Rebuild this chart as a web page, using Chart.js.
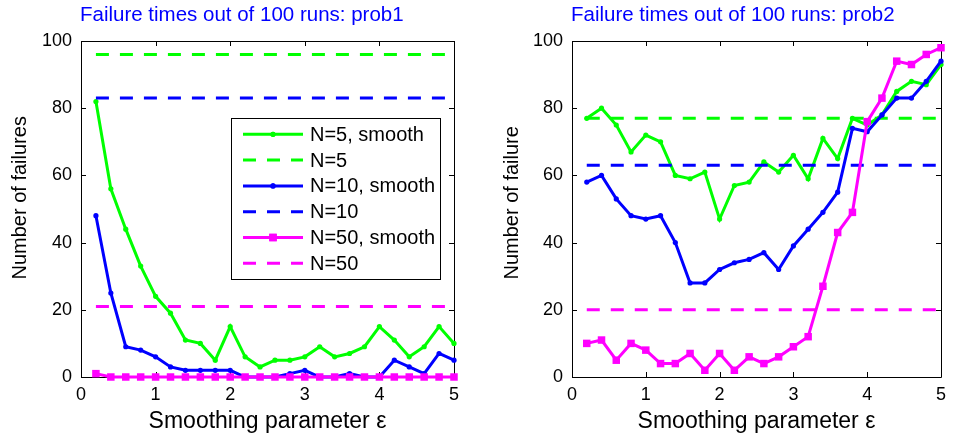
<!DOCTYPE html>
<html>
<head>
<meta charset="utf-8">
<script src="https://cdn.jsdelivr.net/npm/chart.js@4.4.1/dist/chart.umd.min.js"></script>
<style>
  html, body { margin: 0; padding: 0; background: #fff; }
  #wrap { position: relative; width: 953px; height: 437px; }
  canvas { position: absolute; top: 0; }
</style>
</head>
<body>
<div id="wrap">
  <canvas id="c1" width="476" height="437" style="left:0px"></canvas>
  <canvas id="c2" width="477" height="437" style="left:476px"></canvas>
</div>
<script>
// ---------------- data ----------------
const epsValues = [0.2, 0.4, 0.6, 0.8, 1.0, 1.2, 1.4, 1.6, 1.8, 2.0, 2.2, 2.4, 2.6,
                   2.8, 3.0, 3.2, 3.4, 3.6, 3.8, 4.0, 4.2, 4.4, 4.6, 4.8, 5.0];
const seriesLabels = ['N=5, smooth', 'N=5', 'N=10, smooth', 'N=10', 'N=50, smooth', 'N=50'];

// prob1
const prob1N5Smooth  = [82, 56, 44, 33, 24, 19, 11, 10, 5, 15, 6, 3, 5, 5, 6, 9, 6, 7, 9, 15, 11, 6, 9, 15, 10];
const prob1N10Smooth = [48, 25, 9, 8, 6, 3, 2, 2, 2, 2, 0, 0, 0, 1, 2, 0, 0, 1, 0, 0, 5, 3, 1, 7, 5];
const prob1N50Smooth = [1, 0, 0, 0, 0, 0, 0, 0, 0, 0, 0, 0, 0, 0, 0, 0, 0, 0, 0, 0, 0, 0, 0, 0, 0];
const prob1Plain     = [96, 83, 21];   // N=5, N=10, N=50 without smoothing

// prob2
const prob2N5Smooth  = [77, 80, 75, 67, 72, 70, 60, 59, 61, 47, 57, 58, 64, 61, 66, 59, 71, 65, 77, 75, 78, 85, 88, 87, 93];
const prob2N10Smooth = [58, 60, 53, 48, 47, 48, 40, 28, 28, 32, 34, 35, 37, 32, 39, 44, 49, 55, 74, 73, 78, 83, 83, 88, 94];
const prob2N50Smooth = [10, 11, 5, 10, 8, 4, 4, 7, 2, 7, 2, 6, 4, 6, 9, 12, 27, 43, 49, 76, 83, 94, 93, 96, 98];
const prob2Plain     = [77, 63, 20];

const xTicks = [0, 1, 2, 3, 4, 5];
const yTicks = [0, 20, 40, 60, 80, 100];
const titles = ['Failure times out of 100 runs: prob1', 'Failure times out of 100 runs: prob2'];
const yTitles = ['Number of failures', 'Number of failure'];
const xTitle = 'Smoothing parameter \u03b5';

// ---------------- styling ----------------
const GREEN = '#00ff00', BLUE = '#0000ff', MAGENTA = '#ff00ff';
const FONT = '"Liberation Sans", Arial, Helvetica, sans-serif';
const DASH = [13, 11];

function pts(vals) { return epsValues.map((x, i) => ({ x: x, y: vals[i] })); }
function flat(v) { return [{ x: epsValues[0], y: v }, { x: epsValues[epsValues.length - 1], y: v }]; }

function buildDatasets(s5, s10, s50, plain) {
  const colors = [GREEN, GREEN, BLUE, BLUE, MAGENTA, MAGENTA];
  const data = [pts(s5), flat(plain[0]), pts(s10), flat(plain[1]), pts(s50), flat(plain[2])];
  return data.map((d, i) => {
    const smooth = i % 2 === 0;
    const isSquare = i === 4;
    return {
      label: seriesLabels[i],
      data: d,
      borderColor: colors[i],
      backgroundColor: colors[i],
      borderWidth: 3,
      borderDash: smooth ? [] : DASH,
      pointStyle: isSquare ? 'rect' : 'circle',
      pointRadius: smooth ? (isSquare ? 5.3 : 2.6) : 0,
      pointBorderWidth: 0,
      pointHoverRadius: 0,
      tension: 0,
      fill: false,
      clip: false,
      order: 10 - i
    };
  });
}

const framePlugin = {
  id: 'frame',
  beforeDatasetsDraw(chart) {
    const ctx = chart.ctx, a = chart.chartArea;
    const xs = chart.scales.x, ys = chart.scales.y;
    ctx.save();
    ctx.strokeStyle = '#000';
    ctx.lineWidth = 1;
    ctx.beginPath();
    ctx.rect(Math.round(a.left) + 0.5, Math.round(a.top) + 0.5,
             Math.round(a.right - a.left), Math.round(a.bottom - a.top));
    const tl = 5;
    xs.ticks.forEach(t => {
      const px = Math.round(xs.getPixelForValue(t.value)) + 0.5;
      ctx.moveTo(px, a.bottom); ctx.lineTo(px, a.bottom - tl);
      ctx.moveTo(px, a.top); ctx.lineTo(px, a.top + tl);
    });
    ys.ticks.forEach(t => {
      const py = Math.round(ys.getPixelForValue(t.value)) + 0.5;
      ctx.moveTo(a.left, py); ctx.lineTo(a.left + tl, py);
      ctx.moveTo(a.right, py); ctx.lineTo(a.right - tl, py);
    });
    ctx.stroke();
    ctx.restore();
  },
  afterDraw(chart) {
    const ctx = chart.ctx, a = chart.chartArea;
    const o = chart.options.plugins.frame;
    ctx.save();
    // title
    ctx.fillStyle = '#0000ff';
    ctx.font = '20.5px ' + FONT;
    ctx.textAlign = 'left';
    ctx.textBaseline = 'alphabetic';
    ctx.fillText(o.title, a.left - 1, 21);
    // y title
    ctx.fillStyle = '#000';
    ctx.font = '20px ' + FONT;
    ctx.translate(o.yTitleX, 279.5);
    ctx.rotate(-Math.PI / 2);
    ctx.textAlign = 'left';
    ctx.textBaseline = 'middle';
    ctx.fillText(o.yTitle, 0, 0);
    ctx.restore();

    if (o.legend) {
      const L = o.legend;
      ctx.save();
      ctx.fillStyle = '#fff';
      ctx.fillRect(L.x, L.y, L.w, L.h);
      ctx.strokeStyle = '#000';
      ctx.lineWidth = 1;
      ctx.strokeRect(L.x + 0.5, L.y + 0.5, L.w, L.h);
      ctx.font = '20px ' + FONT;
      ctx.textAlign = 'left';
      ctx.textBaseline = 'middle';
      chart.data.datasets.forEach((ds, i) => {
        const cy = L.y + 16.3 + i * 25.8;
        ctx.strokeStyle = ds.borderColor;
        ctx.lineWidth = ds.borderWidth;
        ctx.setLineDash(ds.borderDash);
        ctx.beginPath();
        ctx.moveTo(L.x + 12, cy);
        ctx.lineTo(L.x + 72, cy);
        ctx.stroke();
        ctx.setLineDash([]);
        if (ds.pointRadius > 0) {
          ctx.fillStyle = ds.backgroundColor;
          Chart.helpers.drawPoint(ctx, { pointStyle: ds.pointStyle, radius: ds.pointRadius, borderWidth: 0, rotation: 0 }, L.x + 42, cy);
          ctx.fill();
        }
        ctx.fillStyle = '#000';
        ctx.fillText(ds.label, L.x + 79, cy + 1);
      });
      ctx.restore();
    }
  }
};

function makeChart(id, datasets, yWidth, padRight, frameOpts) {
  return new Chart(document.getElementById(id), {
    type: 'line',
    data: { datasets: datasets },
    plugins: [framePlugin],
    options: {
      responsive: false,
      devicePixelRatio: 1,
      animation: false,
      events: [],
      layout: { padding: { left: 0, right: padRight, top: 41, bottom: 0 } },
      plugins: {
        legend: { display: false },
        title: { display: false },
        tooltip: { enabled: false },
        frame: frameOpts
      },
      scales: {
        x: {
          type: 'linear',
          min: xTicks[0], max: xTicks[xTicks.length - 1],
          afterBuildTicks(s) { s.ticks = xTicks.map(v => ({ value: v })); },
          afterFit(s) { s.height = 60; },
          grid: { display: false, drawTicks: false },
          border: { display: false },
          ticks: { color: '#000', padding: 7, font: { family: FONT, size: 18 }, maxRotation: 0 },
          title: { display: true, text: xTitle, color: '#000', font: { family: FONT, size: 23 }, padding: { top: 0, bottom: 2 } }
        },
        y: {
          type: 'linear',
          min: yTicks[0], max: yTicks[yTicks.length - 1],
          afterBuildTicks(s) { s.ticks = yTicks.map(v => ({ value: v })); },
          afterFit(s) { s.width = yWidth; },
          grid: { display: false, drawTicks: false },
          border: { display: false },
          ticks: { color: '#000', padding: 9, font: { family: FONT, size: 18 } }
        }
      }
    }
  });
}

makeChart('c1', buildDatasets(prob1N5Smooth, prob1N10Smooth, prob1N50Smooth, prob1Plain), 81, 22,
  { title: titles[0], yTitle: yTitles[0], yTitleX: 20, legend: { x: 231, y: 118, w: 209, h: 161 } });
makeChart('c2', buildDatasets(prob2N5Smooth, prob2N10Smooth, prob2N50Smooth, prob2Plain), 96, 9,
  { title: titles[1], yTitle: yTitles[1], yTitleX: 36, legend: null });
</script>
</body>
</html>
